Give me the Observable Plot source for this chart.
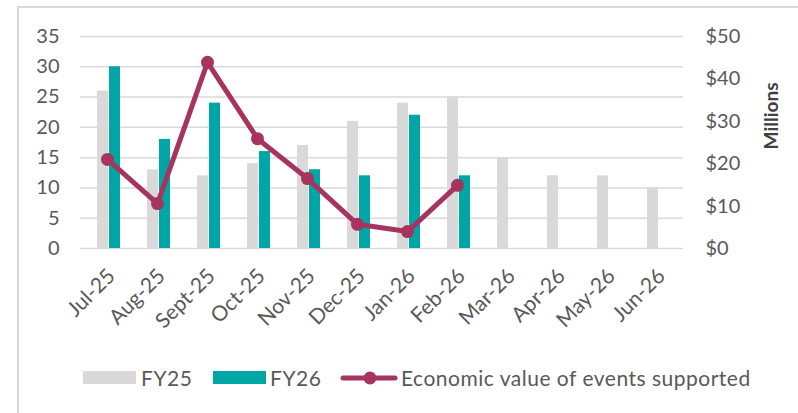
<!DOCTYPE html>
<html>
<head>
<meta charset="utf-8">
<script src="https://cdn.jsdelivr.net/npm/d3@7"></script>
<script src="https://cdn.jsdelivr.net/npm/@observablehq/plot@0.6"></script>
<style>
  html, body { margin: 0; padding: 0; background: #fff; }
  #wrap { position: relative; width: 798px; height: 413px; overflow: hidden; font-family: Lato, "Open Sans", sans-serif; color: #595959; }
  #frame { position: absolute; left: 17px; top: 6px; width: 900px; height: 500px; border-top: 2px solid #d9d9d9; border-left: 2px solid #d9d9d9; pointer-events: none; }
  #chart { position: absolute; left: 0; top: 0; }
  .leg { position: absolute; font-size: 21px; line-height: 21px; letter-spacing: 0.5px; white-space: nowrap; }
  .sw { position: absolute; }
</style>
</head>
<body>
<div id="wrap">
  <div id="frame"></div>
  <div id="chart"></div>
  <div id="legend"></div>
</div>
<script>
const months = ["Jul-25","Aug-25","Sept-25","Oct-25","Nov-25","Dec-25","Jan-26","Feb-26","Mar-26","Apr-26","May-26","Jun-26"];
const fy25 = [26, 13, 12, 14, 17, 21, 24, 25, 15, 12, 12, 10];
const fy26 = [30, 18, 24, 16, 13, 12, 22, 12];
const econValue = [21, 10.6, 43.9, 25.9, 16.5, 5.7, 4.0, 14.9]; // $ millions
const leftTicks = [0, 5, 10, 15, 20, 25, 30, 35];
const moneyTicks = [0, 10, 20, 30, 40, 50];
const seriesNames = ["FY25", "FY26", "Economic value of events supported"];
const colors = {FY25: "#d9d9d9", FY26: "#00a5a5", line: "#a5345f"};

const leftMax = 35, rightMax = 50;
const toLeft = m => m * leftMax / rightMax;

const d25 = months.map((m, i) => ({month: m, v: fy25[i]}));
const d26 = fy26.map((v, i) => ({month: months[i], v}));
const dLine = econValue.map((v, i) => ({month: months[i], v: toLeft(v)}));

const plot = Plot.plot({
  width: 798,
  height: 350,
  marginLeft: 80,
  marginRight: 115,
  marginTop: 36,
  marginBottom: 102,
  style: {fontFamily: "Lato, 'Open Sans', sans-serif", fontSize: "20px", color: "#595959", background: "transparent"},
  x: {domain: months, padding: 0},
  y: {domain: [0, leftMax]},
  marks: [
    Plot.ruleY(leftTicks, {stroke: "#d9d9d9", strokeWidth: 1.5}),
    Plot.barY(d25, {x: "month", y: "v", fill: colors.FY25, insetLeft: 15, insetRight: 24}),
    Plot.barY(d26, {x: "month", y: "v", fill: colors.FY26, insetLeft: 27, insetRight: 12}),
    Plot.line(dLine, {x: "month", y: "v", stroke: colors.line, strokeWidth: 5}),
    Plot.dot(dLine, {x: "month", y: "v", fill: colors.line, r: 6.5}),
    Plot.axisY(leftTicks, {anchor: "left", tickSize: 0, tickPadding: 21, label: null, fontSize: 20}),
    Plot.axisY(moneyTicks.map(toLeft), {anchor: "right", tickSize: 0, tickPadding: 22, label: null, fontSize: 20,
      tickFormat: d => "$" + Math.round(d * rightMax / leftMax)}),
    Plot.text(["Millions"], {frameAnchor: "top-right", dx: 81, dy: 46, rotate: -90, fontWeight: "bold", fontSize: 19, fill: "#404040"}),
    Plot.axisX({tickRotate: -45, tickSize: 0, tickPadding: 24, dx: 4, label: null, fontSize: 21})
  ]
});
document.getElementById("chart").appendChild(plot);

const legend = document.getElementById("legend");
legend.innerHTML = `
  <div class="sw" style="left:83px;top:371px;width:53px;height:13px;background:${colors.FY25}"></div>
  <div class="leg" style="left:141px;top:367px">${seriesNames[0]}</div>
  <div class="sw" style="left:213px;top:371px;width:53px;height:13px;background:${colors.FY26}"></div>
  <div class="leg" style="left:270px;top:367px">${seriesNames[1]}</div>
  <svg class="sw" style="left:340px;top:368px" width="58" height="20"><line x1="3" y1="10" x2="55" y2="10" stroke="${colors.line}" stroke-width="5" stroke-linecap="round"/><circle cx="30" cy="10" r="6.5" fill="${colors.line}"/></svg>
  <div class="leg" style="left:401px;top:367px">${seriesNames[2]}</div>
`;
</script>
</body>
</html>
